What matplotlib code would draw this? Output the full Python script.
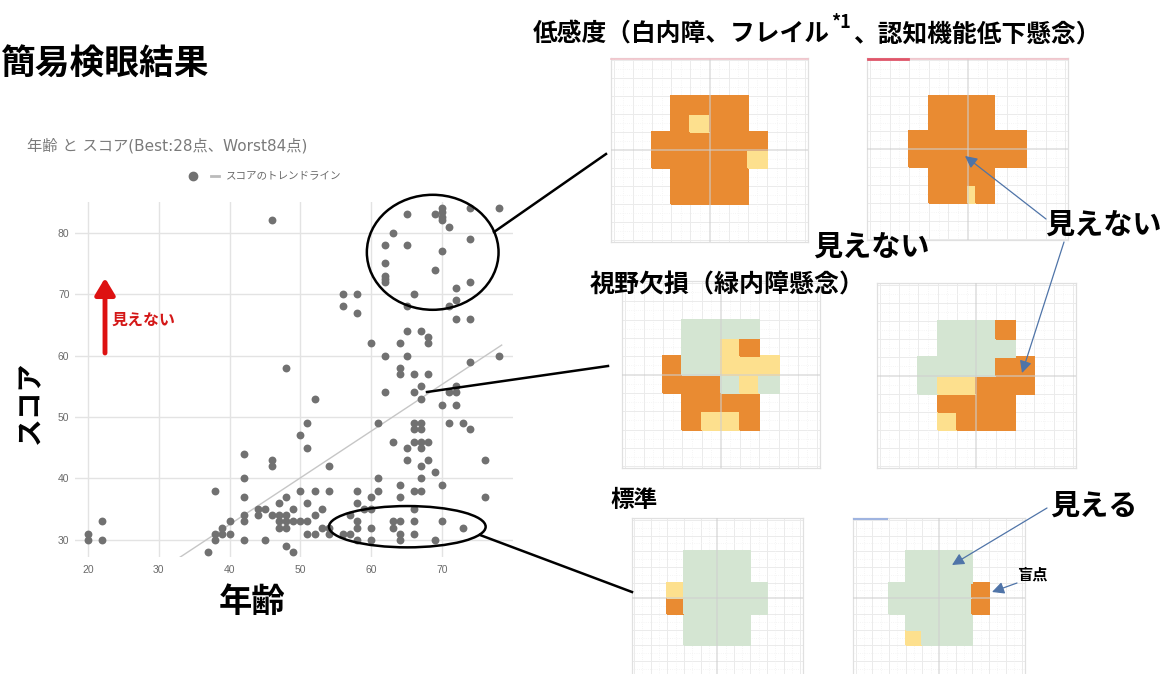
import numpy as np
import matplotlib
matplotlib.use('Agg')
import matplotlib.pyplot as plt
from matplotlib.patches import Ellipse
from matplotlib.colors import ListedColormap

plt.rcParams['font.family'] = ['Noto Sans CJK JP', 'DejaVu Sans']
ARIAL_JP = ['Liberation Sans', 'Noto Sans CJK JP']

# scatter: age vs score
age = [46, 78, 74, 70, 70, 70, 70, 69, 65, 71, 63, 74, 62, 65, 70, 62, 69, 62, 62, 62,
       74, 72, 56, 58, 66, 72, 56, 58, 65, 71, 72, 74, 65, 67, 68, 68, 60, 64, 62, 65,
       78, 74, 48, 64, 64, 66, 68, 52, 62, 66, 67, 67, 71, 72, 72, 70, 72,
       51, 61, 50, 63, 66, 67, 66, 67, 66, 67, 68, 67, 65, 51, 71, 73, 74, 76, 76, 65,
       68, 67, 69, 67, 70, 64, 61, 66, 67, 64, 58, 61, 60, 58, 59, 60, 57, 66, 58, 58,
       60, 63, 64, 63, 66, 70, 73, 64, 64, 66, 69, 60, 58, 56, 57, 54, 54, 53, 54, 54,
       52, 50, 51, 52, 53, 51, 52, 49, 50, 51, 49, 48, 47, 46, 47, 48, 47, 48, 47, 48,
       48, 49, 46, 46, 44, 44, 45, 45, 42, 42, 42, 42, 42, 42, 40, 39, 40, 38, 38, 39,
       38, 37, 20, 20, 22, 22]
score = [82, 84, 84, 84, 83.4, 82.6, 82, 83, 83, 81, 80, 79, 78, 78, 77, 75, 74, 73, 72.5, 72,
         72, 71, 70, 70, 70, 69, 68, 67, 68, 68, 66, 66, 64, 64, 63, 62, 62, 62, 60, 60,
         60, 59, 58, 58, 57, 57, 57, 53, 54, 54, 55, 53, 54, 55, 54, 52, 52,
         49, 49, 47, 46, 49, 49, 48, 48, 46, 46, 46, 45, 45, 45, 49, 49, 48, 43, 37, 43,
         43, 42, 41, 40, 39, 39, 40, 38, 38, 37, 38, 38, 37, 36, 35, 35, 34, 35, 33, 32,
         32, 33, 33, 32, 33, 33, 32, 31, 30, 31, 30, 30, 30, 31, 31, 31, 32, 32, 38, 42,
         38, 38, 36, 34, 35, 31, 31, 33, 33, 33, 35, 37, 36, 34, 34, 34, 33, 33, 32, 32,
         29, 28, 43, 42, 35, 34, 35, 30, 44, 40, 37, 34, 33, 30, 33, 32, 31, 31, 30, 31,
         38, 28, 31, 30, 33, 30]
trend_slope = 0.761
trend_intercept = 2.04
trend_age_range = [32.8, 78.4]
x_ticks = [20, 30, 40, 50, 60, 70]
y_ticks = [30, 40, 50, 60, 70, 80]

# visual field maps: '.' not tested, g seen, y weak, o not seen (top row first)
field_low_a = ["..........", "..........", "...oooo...", "...oyoo...", "..oooooo..",
               "..oooooy..", "...oooo...", "...oooo...", "..........", ".........."]
field_low_b = ["...........", "...........", "...oooo....", "...oooo....", "..ooooooo..",
               "..ooooooo..", "...oooo....", "...ooyo....", "...........", "..........."]
field_low_b_xedges = [-5, -4, -3, -2, -1, 0, 0.4, 1.33, 2, 3, 4, 5]
field_glc_a = ["..........", "..........", "...gggg...", "...ggyo...", "..oggyyy..",
               "..ooogyg..", "...oooo...", "...oyyo...", "..........", ".........."]
field_glc_b = ["..........", "..........", "...gggo...", "...gggg...", "..ggggoo..",
               "..gyyooo..", "...oooo...", "...yooo...", "..........", ".........."]
field_std_a = ["..........", "..........", "...gggg...", "...gggg...", "..yggggg..",
               "..oggggg..", "...gggg...", "...gggg...", "..........", ".........."]
field_std_b = ["..........", "..........", "...gggg...", "...gggg...", "..gggggo..",
               "..gggggo..", "...gggg...", "...yggg...", "..........", ".........."]

W, H = 1166, 674
fig = plt.figure(figsize=(W / 100, H / 100), dpi=100)


def px_axes(x, y, w, h):
    return fig.add_axes([x / W, 1 - (y + h) / H, w / W, h / H])


# ---- scatter chart
ax = px_axes(75, 202, 438, 355)
ax.scatter(age, score, s=32, color='#717171', lw=0, zorder=3)
tx = np.array(trend_age_range)
ax.plot(tx, trend_slope * tx + trend_intercept, color='#c6c6c6', lw=1, zorder=2)
ax.set_xlim(18.2, 80)
ax.set_ylim(27.2, 85)
ax.set_xticks(x_ticks)
ax.set_yticks(y_ticks)
ax.grid(color='#e3e3e3', lw=1)
ax.set_axisbelow(True)
for s in ax.spines.values():
    s.set_visible(False)
ax.tick_params(length=0, labelsize=7.5, labelcolor='#6a6a6a')
ax.tick_params(axis='x', pad=6)
ax.tick_params(axis='y', pad=4)
for lab in ax.get_xticklabels() + ax.get_yticklabels():
    lab.set_family(ARIAL_JP)

# ---- visual field panels
cmap = ListedColormap(['#d4e5d2', '#fde08e', '#e98b32'])
codes = {'.': -1, 'g': 0, 'y': 1, 'o': 2}


def field_panel(box, rows, xedges=None):
    pa = px_axes(*box)
    grid = np.array([[codes[c] for c in r] for r in rows[::-1]], dtype=float)
    grid = np.ma.masked_less(grid, 0)
    if xedges is None:
        xedges = np.arange(-5, 6)
    yedges = np.arange(-5, 6)
    pa.pcolormesh(xedges, yedges, grid, cmap=cmap, vmin=-0.5, vmax=2.5,
                  edgecolors='face', lw=0.2, zorder=2)
    for v in np.arange(-5, 5.5, 0.5):
        if v == 0:
            continue
        major = float(v).is_integer()
        kw = dict(color='#ebebeb', lw=0.7) if major else dict(color='#f2f2f2', lw=0.6, ls=':')
        pa.axvline(v, zorder=1, **kw)
        pa.axhline(v, zorder=1, **kw)
    pa.axvline(0, color='#cfcfcf', lw=1.1, zorder=3, alpha=0.7)
    pa.axhline(0, color='#cfcfcf', lw=1.1, zorder=3, alpha=0.7)
    pa.set_xlim(-5.15, 5.15)
    pa.set_ylim(-5.1, 5.1)
    pa.set_xticks([])
    pa.set_yticks([])
    for s in pa.spines.values():
        s.set_color('#e0e0e0')
        s.set_linewidth(0.9)
    return pa


field_panel((610.7, 58.3, 197.6, 183.4), field_low_a)
field_panel((867.3, 58.3, 201, 182), field_low_b, field_low_b_xedges)
field_panel((621.7, 281, 198.3, 187), field_glc_a)
field_panel((876.7, 282.7, 199.3, 185.6), field_glc_b)
field_panel((631.7, 518.3, 171, 160), field_std_a)
field_panel((853.3, 518.3, 171.7, 160), field_std_b)

# ---- overlay for annotations, in pixel coordinates
ov = fig.add_axes([0, 0, 1, 1])
ov.set_xlim(0, W)
ov.set_ylim(H, 0)
ov.axis('off')
ov.patch.set_alpha(0)
ov.set_zorder(5)

# coloured tabs on the panel tops
ov.plot([611, 808], [58.5, 58.5], color='#f2c3ca', lw=1.2)
ov.plot([868, 1068], [58.5, 58.5], color='#f2c3ca', lw=1.2)
ov.plot([868, 908], [58.5, 58.5], color='#e0566a', lw=2)
ov.plot([854, 887], [518.5, 518.5], color='#9fb4e0', lw=1.5)

ov.text(0, 64, '簡易検眼結果', fontsize=25, weight='bold', va='center', ha='left')
ov.text(27, 146, '年齢 と スコア(Best:28点、Worst84点)', fontsize=11,
        color='#7a7a7a', va='center', family=['DejaVu Sans', 'Noto Sans CJK JP'])
ov.plot([193], [176], 'o', color='#717171', ms=6)
ov.plot([211, 219], [176, 176], color='#bbbbbb', lw=2)
ov.text(226, 176, 'スコアのトレンドライン', fontsize=7.6, color='#6a6a6a', va='center')

ov.text(30, 402, 'スコア', rotation=90, fontsize=20, weight='bold',
        ha='center', va='center')
ov.text(252, 602, '年齢', fontsize=24, weight='bold', ha='center', va='center')

ov.annotate('', xy=(105, 278), xytext=(105, 353),
            arrowprops=dict(arrowstyle='-|>,head_length=0.5,head_width=0.3',
                            mutation_scale=20, color='#dd1111', lw=3.5,
                            shrinkA=0, shrinkB=0))
ov.text(112, 320, '見えない', fontsize=11.5, weight='bold', color='#d41818', va='center')

# ellipses and connectors
ov.add_patch(Ellipse((432.7, 252.3), 131.7, 115, fill=False, ec='black', lw=1.8))
ov.add_patch(Ellipse((407.3, 526.7), 156.7, 41.3, fill=False, ec='black', lw=1.8))
ov.plot([494, 606], [232, 154], color='black', lw=1.8)
ov.plot([427, 608], [392, 366], color='black', lw=1.8)
ov.plot([480, 632], [535, 592], color='black', lw=1.8)

# headings (with superscript)
fig.canvas.draw()
rend = fig.canvas.get_renderer()
inv = ov.transData.inverted()
t1 = ov.text(533, 35, '低感度（白内障、フレイル', fontsize=17.8, weight='bold', va='center')
x1 = inv.transform(t1.get_window_extent(rend))[1][0]
t2 = ov.text(x1 + 1, 23, '*1', fontsize=13, weight='bold', va='center')
x2 = inv.transform(t2.get_window_extent(rend))[1][0]
ov.text(x2 + 2, 35, '、認知機能低下懸念）', fontsize=17.8, weight='bold', va='center')

ov.text(590, 285, '視野欠損（緑内障懸念）', fontsize=18, weight='bold', va='center')
ov.text(610, 500, '標準', fontsize=17, weight='bold', va='center')
ov.text(813, 247, '見えない', fontsize=21, weight='bold', va='center')
ov.text(1045, 225, '見えない', fontsize=21, weight='bold', va='center')
ov.text(1050, 506, '見える', fontsize=21, weight='bold', va='center')
ov.text(1017, 575, '盲点', fontsize=11, weight='bold', va='center')

blue = dict(arrowstyle='-|>,head_length=0.6,head_width=0.3', mutation_scale=12,
            color='#4f74a8', lw=0.9, shrinkA=0, shrinkB=0)
ov.annotate('', xy=(965, 156), xytext=(1046, 219), arrowprops=blue)
ov.annotate('', xy=(1022, 373), xytext=(1064, 242), arrowprops=blue)
ov.annotate('', xy=(952, 565), xytext=(1047, 508), arrowprops=blue)
ov.annotate('', xy=(992, 592), xytext=(1017, 583), arrowprops=blue)

fig.savefig('out.png', dpi=100)
